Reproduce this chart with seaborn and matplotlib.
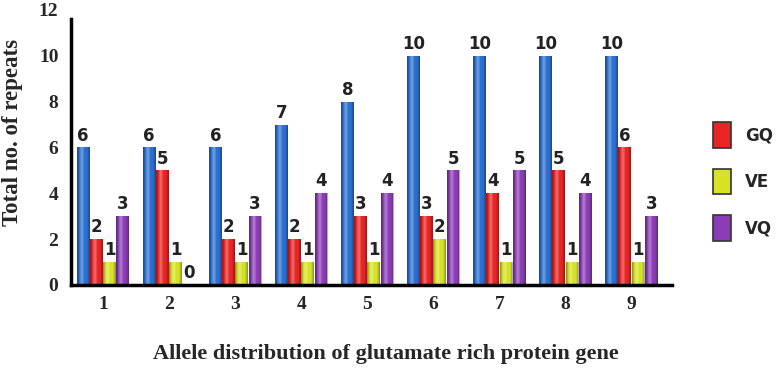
import matplotlib
matplotlib.use("Agg")
import matplotlib.pyplot as plt
import seaborn as sns
import pandas as pd
import numpy as np
from matplotlib.patches import Patch

groups = ["1", "2", "3", "4", "5", "6", "7", "8", "9"]
series = ["Total", "GQ", "VE", "VQ"]
total = [6, 6, 6, 7, 8, 10, 10, 10, 10]
gq = [2, 5, 2, 2, 3, 3, 4, 5, 6]
ve = [1, 1, 1, 1, 1, 2, 1, 1, 1]
vq = [3, 0, 3, 4, 4, 5, 5, 4, 3]
colors = ["#2a6fd0", "#e82424", "#d6e224", "#8a3db4"]

rows = []
for name, vals in zip(series, [total, gq, ve, vq]):
    for g, v in zip(groups, vals):
        rows.append({"group": g, "series": name, "value": v})
df = pd.DataFrame(rows)

sns.set_style("white")
fig = plt.figure(figsize=(7.8, 3.69), dpi=100)
ax = fig.add_axes([0.091, 0.228, 0.771, 0.745])

sns.barplot(data=df, x="group", y="value", hue="series", order=groups,
            hue_order=series, palette=colors, width=0.8, gap=0.03,
            saturation=1, ax=ax, legend=False, edgecolor="none")

ax.set_ylim(0, 12)
ax.set_xlim(-0.485, 8.62)

# cylindrical shading overlay, clipped to each bar drawn by seaborn
t = np.linspace(-1, 1, 64)
shade = np.zeros((1, 64, 4))
light = np.clip(1 - np.abs(t + 0.25) * 2.2, 0, 1)
dark = np.clip(np.abs(t) - 0.55, 0, 1) / 0.45
shade[0, :, :3] = (light[:, None] > dark[:, None]) * 1.0
shade[0, :, 3] = np.maximum(light * 0.35, dark * 0.35)
for patch in list(ax.patches):
    h = patch.get_height()
    if h <= 0:
        continue
    x0 = patch.get_x()
    w = patch.get_width()
    im = ax.imshow(shade, extent=(x0, x0 + w, 0, h), aspect="auto",
                   interpolation="bilinear", zorder=patch.get_zorder() + 0.1)
    im.set_clip_path(patch)
ax.set_xlim(-0.485, 8.62)
ax.set_ylim(0, 12)

for cont in ax.containers:
    ax.bar_label(cont, fmt="%d", padding=2, fontsize=12, fontweight="bold",
                 family="DejaVu Sans", color="#222222")

ax.set_yticks(range(0, 13, 2))
for lab in ax.get_yticklabels() + ax.get_xticklabels():
    lab.set_family("Liberation Serif")
    lab.set_fontweight("bold")
    lab.set_fontsize(14)
ax.tick_params(axis="both", length=0)
ax.tick_params(axis="x", pad=8)
ax.tick_params(axis="y", pad=9)

ax.set_ylabel("Total no. of repeats", family="Liberation Serif",
              fontweight="bold", fontsize=16.5)
ax.yaxis.set_label_coords(-0.08, 0.556)
ax.set_xlabel("Allele distribution of glutamate rich protein gene",
              family="Liberation Serif", fontweight="bold", fontsize=16)
ax.xaxis.set_label_coords(0.523, -0.215)

sns.despine(ax=ax)
for s in ["left", "bottom"]:
    ax.spines[s].set_linewidth(2.5)
    ax.spines[s].set_color("black")
ax.spines["left"].set_bounds(0, 11.6)

handles = [Patch(facecolor=c, edgecolor="#333333", linewidth=1.2)
           for c in colors[1:]]
leg = fig.legend(handles, series[1:], loc="upper left",
                 bbox_to_anchor=(0.895, 0.71), frameon=False,
                 handlelength=1.1, handleheight=2.0, labelspacing=1.25,
                 prop={"family": "DejaVu Sans", "weight": "bold", "size": 12})

fig.savefig("out.png", dpi=100)
